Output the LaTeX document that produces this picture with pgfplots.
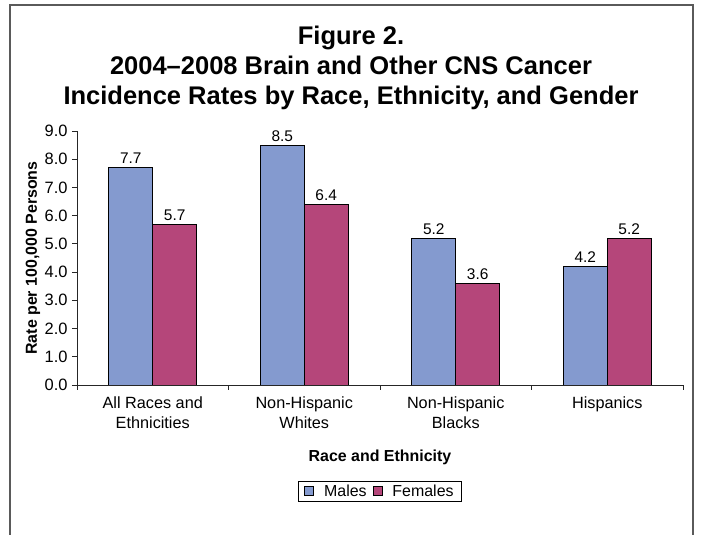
\documentclass[border=0pt]{standalone}
\usepackage{pgfplots}
\pgfplotsset{compat=1.18}
\usepackage{fontspec}
\setmainfont{Liberation Sans}

\definecolor{malec}{RGB}{132,154,207}
\definecolor{femc}{RGB}{181,70,122}
\definecolor{framec}{RGB}{90,90,90}

\pgfplotstableread{
x val
0 7.7
1 8.5
2 5.2
3 4.2
}\males
\pgfplotstableread{
x val
0 5.7
1 6.4
2 3.6
3 5.2
}\females

\begin{document}
\begin{tikzpicture}[x=1bp,y=1bp]
  % page size and outer frame
  \path (-77,-144) rectangle (625,385);
  \draw[framec, line width=1.4bp] (-67,-150) -- (-67,380) -- (616,380) -- (616,-150);
  \clip (-77,-144) rectangle (625,385);

  \node[font=\fontsize{25.6}{30}\selectfont\bfseries, align=center, anchor=center]
    at (274,317) {Figure 2.\\2004--2008 Brain and Other CNS Cancer\\Incidence Rates by Race, Ethnicity, and Gender};

  \begin{axis}[
      scale only axis,
      width=606bp,
      height=254bp,
      at={(0,0)}, anchor=south west,
      xmin=-0.5, xmax=3.5,
      ymin=0, ymax=9,
      axis x line=bottom,
      axis y line=left,
      axis line style={-, black!85, line width=0.8bp},
      ytick={0,1,...,9},
      /pgf/number format/assume math mode=true,
      yticklabel style={font=\fontsize{16.5}{18}\selectfont, xshift=-1bp,
        /pgf/number format/fixed, /pgf/number format/fixed zerofill, /pgf/number format/precision=1},
      xtick={0,1,2,3},
      xticklabels={All Races and\\Ethnicities, Non-Hispanic\\Whites, Non-Hispanic\\Blacks, Hispanics},
      xticklabel style={font=\fontsize{16.3}{20}\selectfont, align=center, anchor=north, yshift=-3bp},
      major x tick style={draw=none},
      minor xtick={-0.5,0.5,1.5,2.5,3.5},
      tick align=outside,
      major tick length=5bp,
      minor tick length=5bp,
      tick style={black!85, line width=0.8bp},
      ylabel={Rate per 100,000 Persons},
      ylabel style={font=\fontsize{16}{18}\selectfont\bfseries, at={(axis description cs:0,0.5)}, yshift=44bp, anchor=center},
      xlabel={Race and Ethnicity},
      xlabel style={font=\fontsize{16}{18}\selectfont\bfseries, at={(axis description cs:0.5,0)}, yshift=-72bp, anchor=center},
      ybar,
      bar width=0.29,
      nodes near coords,
      nodes near coords style={font=\fontsize{15.5}{16}\selectfont,
        /pgf/number format/fixed, /pgf/number format/fixed zerofill, /pgf/number format/precision=1},
      legend style={at={(0.5,0)}, yshift=-106bp, anchor=center, draw=black, line width=0.6bp,
        font=\fontsize{16}{18}\selectfont, legend columns=2,
        /tikz/every even column/.append style={column sep=4bp},
        /tikz/every odd column/.append style={column sep=8bp},
        inner xsep=6bp, inner ysep=1.5bp},
      legend image code/.code={\draw[#1, line width=0.8bp] (0bp,-4.5bp) rectangle (9bp,4.5bp);},
    ]
    \addplot[fill=malec, draw=black, line width=0.8bp, bar shift=-0.145] table[x=x, y=val] {\males};
    \addplot[fill=femc, draw=black, line width=0.8bp, bar shift=0.145] table[x=x, y=val] {\females};
    \legend{Males, Females}
  \end{axis}
\end{tikzpicture}
\end{document}
